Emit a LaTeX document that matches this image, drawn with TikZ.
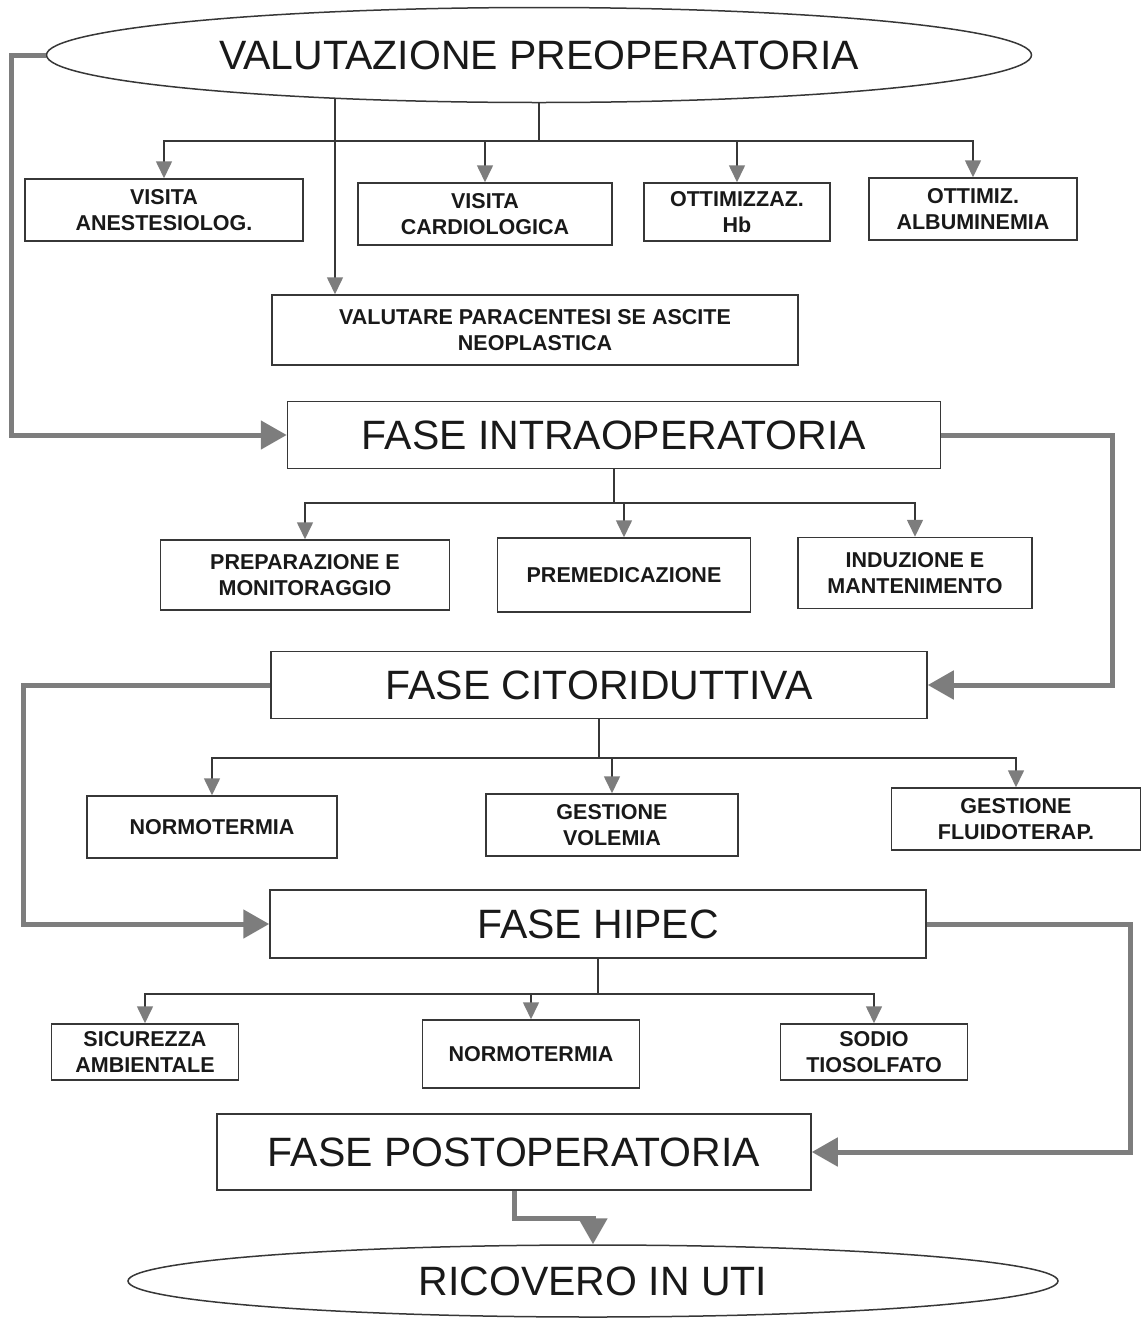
\documentclass[tikz,border=0pt]{standalone}
\usepackage{fontspec}
\setmainfont{Liberation Sans}
\usepackage{tikz}
\usetikzlibrary{arrows.meta, shapes.geometric, positioning, calc}
\definecolor{flowgray}{RGB}{125,125,125}
\definecolor{linegray}{RGB}{55,55,55}
\definecolor{textgray}{RGB}{25,25,25}

\begin{document}
\begin{tikzpicture}[x=1pt, y=-1pt,
    phase/.style={draw=linegray, line width=1.5pt, text=textgray, inner sep=0pt, font=\fontsize{41}{48}\selectfont},
    oval/.style={phase, ellipse},
    task/.style={draw=linegray, line width=1.5pt, text=textgray, inner sep=0pt, align=center, font=\bfseries\fontsize{21.5}{26}\selectfont},
    link/.style={draw=linegray, line width=1.6pt, -{Triangle[length=17pt,width=16pt,color=flowgray]}},
    flow/.style={draw=flowgray, line width=5pt, line join=miter, -{Triangle[length=26pt,width=28pt]}}]
  \useasboundingbox (0,0) rectangle (1141,1318);

  % preoperatoria
  \node[oval, minimum width=985pt, minimum height=95pt] (pre) at (539,55) {VALUTAZIONE PREOPERATORIA};
  \node[task, minimum width=278pt, minimum height=62pt] (anes) at (164,210) {VISITA\\ANESTESIOLOG.};
  \node[task, minimum width=254pt, minimum height=62pt] (cardio) at (485,214) {VISITA\\CARDIOLOGICA};
  \node[task, minimum width=186pt, minimum height=58pt] (hb) at (737,212) {OTTIMIZZAZ.\\Hb};
  \node[task, minimum width=208pt, minimum height=62pt] (albu) at (973,209) {OTTIMIZ.\\ALBUMINEMIA};
  \node[task, minimum width=526pt, minimum height=70pt] (para) at (535,330) {VALUTARE PARACENTESI SE ASCITE\\NEOPLASTICA};
  \foreach \n in {anes,cardio,hb,albu}
    \draw[link] (pre.south) -- ++(0,38) -| (\n.north);
  \coordinate (paratop) at (335,98);
  \draw[link] (paratop) -- (paratop |- para.north);

  % intraoperatoria
  \node[phase, minimum width=653pt, minimum height=67pt] (intra) at (614,435) {FASE INTRAOPERATORIA};
  \node[task, minimum width=289pt, minimum height=70pt] (prep) at (305,575) {PREPARAZIONE E\\MONITORAGGIO};
  \node[task, minimum width=253pt, minimum height=74pt] (premed) at (624,575) {PREMEDICAZIONE};
  \node[task, minimum width=234pt, minimum height=71pt] (induz) at (915,573) {INDUZIONE E\\MANTENIMENTO};
  \foreach \n in {prep,premed,induz}
    \draw[link] (intra.south) -- ++(0,34) -| (\n.north);

  % citoriduttiva
  \node[phase, minimum width=656pt, minimum height=67pt] (cito) at (599,685) {FASE CITORIDUTTIVA};
  \node[task, minimum width=250pt, minimum height=62pt] (normoA) at (212,827) {NORMOTERMIA};
  \node[task, minimum width=252pt, minimum height=62pt] (volem) at (612,825) {GESTIONE\\VOLEMIA};
  \node[task, minimum width=249pt, minimum height=62pt] (fluido) at (1016,819) {GESTIONE\\FLUIDOTERAP.};
  \foreach \n in {normoA,volem,fluido}
    \draw[link] (cito.south) -- ++(0,39) -| (\n.north);

  % hipec
  \node[phase, minimum width=656pt, minimum height=68pt] (hipec) at (598,924) {FASE HIPEC};
  \node[task, minimum width=187pt, minimum height=56pt] (sicur) at (145,1052) {SICUREZZA\\AMBIENTALE};
  \node[task, minimum width=217pt, minimum height=68pt] (normoB) at (531,1054) {NORMOTERMIA};
  \node[task, minimum width=187pt, minimum height=56pt] (sodio) at (874,1052) {SODIO\\TIOSOLFATO};
  \foreach \n in {sicur,normoB,sodio}
    \draw[link] (hipec.south) -- ++(0,35) -| (\n.north);

  % postoperatoria
  \node[phase, minimum width=594pt, minimum height=76pt] (post) at (514,1152) {FASE POSTOPERATORIA};
  \node[oval, minimum width=930pt, minimum height=72pt] (uti) at (593,1281) {RICOVERO IN UTI};

  % main flow
  \draw[flow] (pre.west) -- ++(-34,0) |- (intra.west);
  \draw[flow] (intra.east) -- ++(171,0) |- (cito.east);
  \draw[flow] (cito.west) -- ++(-247,0) |- (hipec.west);
  \draw[flow] (hipec.east) -- ++(204,0) |- (post.east);
  \draw[flow] (post.south) -- ++(0,28) -| (uti.north);
\end{tikzpicture}
\end{document}
